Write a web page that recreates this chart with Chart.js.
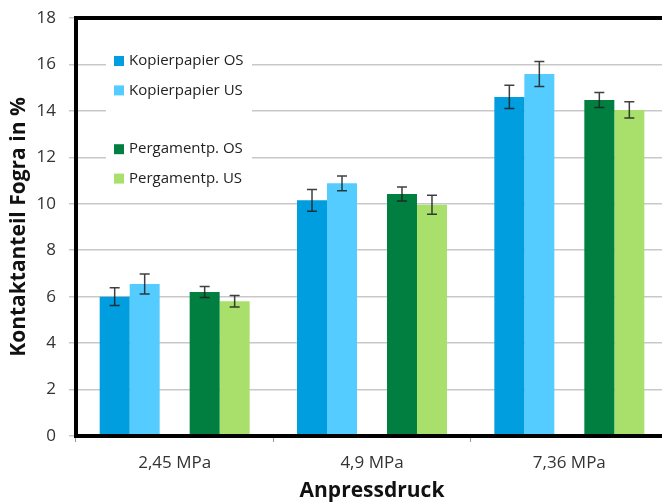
<!DOCTYPE html>
<html>
<head>
<meta charset="utf-8">
<script src="https://cdn.jsdelivr.net/npm/chart.js@4/dist/chart.umd.min.js"></script>
<style>
  html, body { margin:0; padding:0; background:#fff; overflow:hidden; }
  #wrap { width:668px; height:504px; }
</style>
</head>
<body>
<div id="wrap"><canvas id="c" width="668" height="504"></canvas></div>
<script>
// ── data ─────────────────────────────────────────────
const categories = ["2,45 MPa", "4,9 MPa", "7,36 MPa"];
const yTicks     = [0, 2, 4, 6, 8, 10, 12, 14, 16, 18];

const kopierOS     = [6.0, 10.15, 14.6];
const kopierOSErr  = [0.38, 0.47, 0.5];
const kopierUS     = [6.55, 10.88, 15.59];
const kopierUSErr  = [0.43, 0.32, 0.54];
const pergOS       = [6.2, 10.42, 14.47];
const pergOSErr    = [0.24, 0.3, 0.32];
const pergUS       = [5.8, 9.96, 14.04];
const pergUSErr    = [0.25, 0.41, 0.35];

const FONT = "'Open Sans', 'DejaVu Sans', sans-serif";

// ── plugins ──────────────────────────────────────────
const errorBars = {
  id: "errorBars",
  afterDatasetsDraw(chart) {
    const { ctx, scales:{ y } } = chart;
    ctx.save();
    ctx.strokeStyle = "rgba(30,30,30,0.85)";
    ctx.lineWidth = 1.5;
    chart.data.datasets.forEach((ds, i) => {
      if (!ds.err) return;
      chart.getDatasetMeta(i).data.forEach((bar, j) => {
        const v = ds.data[j], e = ds.err[j];
        const x = bar.x, yt = y.getPixelForValue(v + e), yb = y.getPixelForValue(v - e);
        ctx.beginPath();
        ctx.moveTo(x, yt); ctx.lineTo(x, yb);
        ctx.moveTo(x - 5, yt); ctx.lineTo(x + 5, yt);
        ctx.moveTo(x - 5, yb); ctx.lineTo(x + 5, yb);
        ctx.stroke();
      });
    });
    ctx.restore();
  }
};

const frame = {
  id: "frame",
  afterDraw(chart) {
    const { ctx, chartArea:a } = chart;
    ctx.save();
    ctx.strokeStyle = "#000";
    ctx.lineWidth = 4;
    ctx.beginPath();
    ctx.rect(a.left, a.top, a.right - a.left, a.bottom - a.top);
    ctx.stroke();
    ctx.restore();
  }
};

// legend inside plot, top-left, with blank spacer row
const innerLegend = {
  id: "innerLegend",
  afterDatasetsDraw(chart) {
    const { ctx } = chart;
    ctx.save();
    ctx.fillStyle = "#fff";
    ctx.fillRect(106, 38, 146, 156);
    ctx.font = "15px " + FONT;
    ctx.textBaseline = "middle";
    chart.data.datasets.forEach((ds, i) => {
      const yy = 61 + i * 29.4;
      if (!ds.label) return;
      ctx.fillStyle = ds.backgroundColor;
      ctx.fillRect(114, yy - 5, 10, 10);
      ctx.fillStyle = "#222";
      ctx.fillText(ds.label, 129, yy);
    });
    ctx.restore();
  }
};

// ── chart ────────────────────────────────────────────
new Chart(document.getElementById("c").getContext("2d"), {
  type: "bar",
  data: {
    labels: categories,
    datasets: [
      { label:"Kopierpapier OS", data:kopierOS, err:kopierOSErr, backgroundColor:"#009ddf" },
      { label:"Kopierpapier US", data:kopierUS, err:kopierUSErr, backgroundColor:"#55ccff" },
      { label:"", data:[null, null, null], backgroundColor:"transparent" },
      { label:"Pergamentp. OS", data:pergOS, err:pergOSErr, backgroundColor:"#007f40" },
      { label:"Pergamentp. US", data:pergUS, err:pergUSErr, backgroundColor:"#a8e06b" },
    ],
  },
  options: {
    responsive:false, animation:false,
    layout:{ padding:{ top:18, right:0, bottom:0, left:0 } },
    datasets:{ bar:{ categoryPercentage:0.76, barPercentage:1.0, borderWidth:0 } },
    plugins:{ legend:{ display:false }, tooltip:{ enabled:false } },
    scales:{
      x:{
        afterFit: s => { s.height = 68; s.paddingLeft = 0; s.paddingRight = 0; },
        grid:{ offset:true, drawOnChartArea:false, tickLength:6, color:"#999" },
        border:{ display:false },
        ticks:{ font:{ family:FONT, size:17 }, color:"#333", padding:11 },
        title:{ display:true, text:"Anpressdruck", font:{ family:FONT, size:21, weight:"bold" }, color:"#111", padding:{ top:0, bottom:0 } },
      },
      y:{
        min:0, max:18,
        afterFit: s => { s.width = 76; s.paddingTop = 0; s.paddingBottom = 0; },
        afterBuildTicks: s => { s.ticks = yTicks.map(v => ({ value:v })); },
        grid:{ color:"#c8c8c8", lineWidth:1.5, tickLength:7 },
        border:{ display:false },
        ticks:{ font:{ family:FONT, size:17 }, color:"#333", padding:13 },
        title:{ display:true, text:"Kontaktanteil Fogra in %", font:{ family:FONT, size:21, weight:"bold" }, color:"#111", padding:{ top:6, bottom:0 } },
      },
    },
  },
  plugins:[ errorBars, innerLegend, frame ],
});
</script>
</body>
</html>
